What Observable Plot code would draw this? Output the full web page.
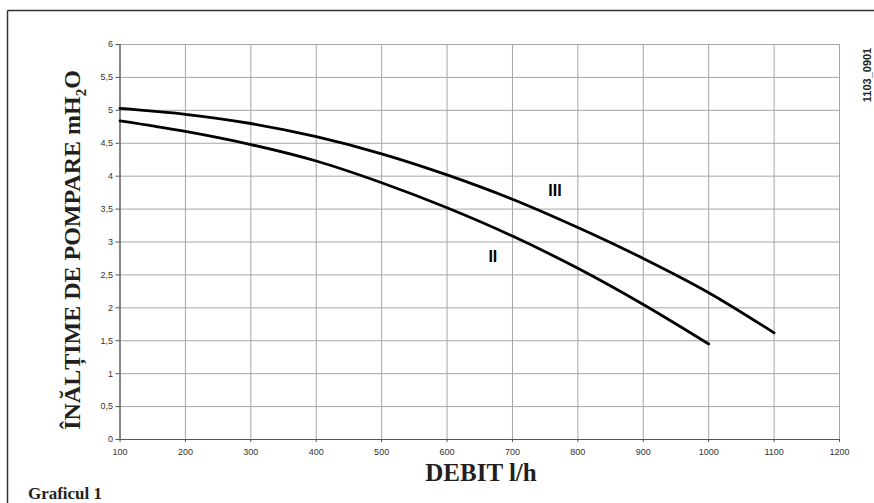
<!DOCTYPE html>
<html>
<head>
<meta charset="utf-8">
<script src="https://cdn.jsdelivr.net/npm/d3@7"></script>
<script src="https://cdn.jsdelivr.net/npm/@observablehq/plot@0.6"></script>
<style>
  html, body { margin: 0; padding: 0; background: #fff; overflow: hidden; }
  #chart { width: 874px; height: 503px; overflow: hidden; }
  svg { display: block; }
</style>
</head>
<body>
<div id="chart"></div>
<script>
// Flow (l/h)
const flowII  = [100, 200, 300, 400, 500, 600, 700, 800, 900, 1000];
const flowIII = [100, 200, 300, 400, 500, 600, 700, 800, 900, 1000, 1100];
// Pump head (m H2O)
const headII  = [4.84, 4.68, 4.48, 4.23, 3.90, 3.52, 3.09, 2.60, 2.05, 1.45];
const headIII = [5.03, 4.94, 4.80, 4.60, 4.34, 4.02, 3.65, 3.22, 2.75, 2.23, 1.62];
// Curve labels
const curveNames = ["II", "III"];
const curveLabelX = [670, 765];
const curveLabelY = [2.77, 3.78];
// Ticks
const xTicks = [100, 200, 300, 400, 500, 600, 700, 800, 900, 1000, 1100, 1200];
const yTicks = [0, 0.5, 1, 1.5, 2, 2.5, 3, 3.5, 4, 4.5, 5, 5.5, 6];
// Texts
const yTitle = "ÎNĂLȚIME DE POMPARE mH";
const yTitleSub = "2";
const yTitleEnd = "O";
const xTitle = "DEBIT l/h";
const caption = "Graficul 1";
const code = "1103_0901";

const lineData = [
  ...flowII.map((x, i) => ({x, y: headII[i], s: "II"})),
  ...flowIII.map((x, i) => ({x, y: headIII[i], s: "III"}))
];
const labelData = curveNames.map((n, i) => ({n, x: curveLabelX[i], y: curveLabelY[i]}));

const W = 874, H = 503;
const plot = Plot.plot({
  width: W,
  height: H,
  marginLeft: 119.5,
  marginRight: 35,
  marginTop: 44,
  marginBottom: 64,
  style: {background: "#fff", fontFamily: "'Liberation Sans', Arial, sans-serif", fontSize: "9px", color: "#333"},
  x: {domain: [100, 1200], ticks: xTicks},
  y: {domain: [0, 6], ticks: yTicks},
  marks: [
    Plot.ruleX(xTicks, {stroke: "#a6a6a6", strokeWidth: 1}),
    Plot.ruleY(yTicks, {stroke: "#a6a6a6", strokeWidth: 1}),
    Plot.ruleX([100], {stroke: "#555", strokeWidth: 1.2}),
    Plot.ruleY([0], {stroke: "#555", strokeWidth: 1.2}),
    Plot.axisX({ticks: xTicks, tickSize: 3, tickPadding: 6, tickFormat: d => String(d), label: null, stroke: "#555", fill: "#333", fontSize: 9}),
    Plot.axisY({ticks: yTicks, tickSize: 4, tickPadding: 3, tickFormat: d => String(d).replace(".", ","), label: null, stroke: "#555", fill: "#333", fontSize: 9}),
    Plot.line(lineData, {x: "x", y: "y", z: "s", stroke: "#000", strokeWidth: 2.8, curve: "monotone-x"}),
    Plot.text(labelData, {x: "x", y: "y", text: "n", fontSize: 16, fontWeight: "bold", fill: "#000", fontFamily: "'Liberation Sans', Arial, sans-serif"})
  ]
});

const svg = d3.select(plot);
// outer border: top and left edges of the page frame
svg.append("line")
  .attr("x1", 7.5).attr("y1", 10.5).attr("x2", W).attr("y2", 10.5)
  .attr("stroke", "#333").attr("stroke-width", 1.5);
svg.append("line")
  .attr("x1", 7.5).attr("y1", 10.5).attr("x2", 7.5).attr("y2", H)
  .attr("stroke", "#333").attr("stroke-width", 1.5);

// y title
const yt = svg.append("text")
  .attr("transform", "translate(80,250) rotate(-90)")
  .attr("text-anchor", "middle")
  .attr("font-family", "'Liberation Serif', 'DejaVu Serif', serif")
  .attr("font-weight", "bold")
  .attr("font-size", 24)
  .attr("fill", "#231f20");
yt.append("tspan").text(yTitle);
yt.append("tspan").attr("font-size", 15).attr("dy", 6).text(yTitleSub);
yt.append("tspan").attr("dy", -6).text(yTitleEnd);

// x title
svg.append("text")
  .attr("x", 481).attr("y", 481)
  .attr("text-anchor", "middle")
  .attr("font-family", "'Liberation Serif', 'DejaVu Serif', serif")
  .attr("font-weight", "bold")
  .attr("font-size", 25)
  .attr("fill", "#231f20")
  .text(xTitle);

// caption
svg.append("text")
  .attr("x", 65).attr("y", 499)
  .attr("font-family", "'Liberation Serif', 'DejaVu Serif', serif")
  .attr("font-weight", "bold")
  .attr("font-size", 17)
  .attr("fill", "#231f20")
  .text(caption);

// code
svg.append("text")
  .attr("transform", "translate(871,75) rotate(-90)")
  .attr("text-anchor", "middle")
  .attr("font-family", "'Liberation Sans', Arial, sans-serif")
  .attr("font-weight", "bold")
  .attr("font-size", 11)
  .attr("fill", "#231f20")
  .text(code);

document.getElementById("chart").appendChild(plot);
</script>
</body>
</html>
